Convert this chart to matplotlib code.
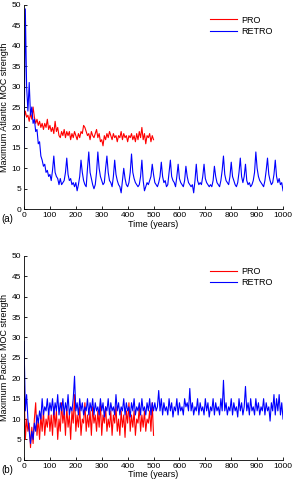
import numpy as np
import matplotlib
matplotlib.use("Agg")
import matplotlib.pyplot as plt

step = 5

pro_atl = [
    22, 24, 22.5, 23, 21.5, 23.5, 22, 25, 22.5, 21,
    22, 20.5, 21.5, 20, 21, 19.5, 21, 20, 22, 19.5,
    20.5, 19, 20, 18.5, 21.5, 19, 20, 18, 17.5, 19,
    18, 19.5, 17.5, 19, 18, 19, 17, 18.5, 17.5, 19,
    18, 17, 18.5, 17.5, 19, 18.5, 20.5, 20, 19, 18,
    18.5, 17, 19, 18, 17.5, 18.5, 19.5, 17.5, 18.5, 16.5,
    17, 15.5, 18, 17, 18.5, 17.5, 19, 18, 17, 18.5,
    17.5, 18, 16.5, 18, 17.5, 19, 17, 18.5, 17.5, 18,
    16.5, 18, 17.5, 18.5, 17, 18, 16.5, 18.5, 17, 19,
    17.5, 20, 17, 18.5, 16, 18, 17.5, 18.5, 16.5, 18,
    17,
]

retro_atl = [
    15, 49, 30, 24, 31, 23, 25, 21, 22, 19,
    19.5, 16, 16.5, 13, 12, 10.5, 11, 9, 9.5, 8,
    8.5, 7, 9.5, 13, 9, 8, 7.5, 6, 7.5, 6,
    6.5, 7, 9, 12.5, 8.5, 7, 7.5, 6, 6.5, 5.5,
    6.5, 4.5, 6, 8, 12, 9, 7, 6, 5.5, 10,
    14, 9, 7.5, 6, 5, 6, 9, 14, 10, 8,
    7, 6, 6.5, 10, 13, 9, 7, 6.5, 5.5, 8,
    12, 8.5, 7, 6, 5.5, 4, 7, 10, 7.5, 6,
    5.5, 6.5, 9, 13.5, 9, 7.5, 6.5, 6, 5.5, 6,
    8, 12, 7, 4.5, 5.5, 6.5, 6, 7, 8, 11,
    8.5, 6.5, 6, 5.5, 6.5, 8, 11.5, 8, 6.5, 7,
    5.5, 6, 9, 12, 8, 7, 6.5, 5.5, 8, 11,
    7.5, 6.5, 6, 5.5, 7, 10.5, 8, 6.5, 6, 5.5,
    6, 4, 7, 11, 7, 6, 6.5, 6, 8, 11,
    7.5, 6.5, 6, 5.5, 6, 5.5, 7, 10.5, 8, 6.5,
    6, 5.5, 7, 9.5, 13, 8.5, 7, 6.5, 6, 8,
    11.5, 8, 7, 6, 5.5, 6.5, 9, 12.5, 8, 6.5,
    8, 11, 7, 6, 6.5, 5.5, 6, 7, 9, 14,
    10, 8, 7, 6.5, 6, 5.5, 7, 9.5, 12.5, 8.5,
    7, 6, 6.5, 8.5, 12, 8, 6.5, 7.5, 6, 6.5,
    4.5,
]

pro_pac = [
    18, 5, 10, 7, 9, 3, 8, 4, 10, 14,
    6, 10, 5, 11, 7, 12, 6, 10, 8, 12,
    7, 11, 6, 13, 8, 12, 5, 10, 7, 14,
    9, 12, 6, 13, 8, 11, 5, 12, 9, 16,
    7, 11, 8, 13, 6, 10, 9, 14, 7, 11,
    8, 12, 6, 13, 9, 11, 7, 12, 8, 14,
    6, 11, 9, 13, 7, 10, 8, 12, 6, 11,
    9, 13, 7, 10, 6, 12, 8, 11, 5.5, 12,
    9, 14, 7, 11, 8, 12, 6, 10, 9, 13,
    7, 11, 8, 12, 7, 10, 9, 12, 7, 14,
    6,
]

retro_pac = [
    29, 12, 16, 10, 7, 4, 7, 5, 9, 7,
    11, 9, 12, 10, 15, 11, 13, 12, 15, 11,
    14, 12, 15, 11, 14, 12, 16, 11, 14, 12,
    15, 11, 14, 12, 16, 11, 13, 12, 15, 20.5,
    12, 14, 11, 15, 12, 14, 11, 13, 12, 15,
    11, 14, 12, 15, 11, 14, 12, 13, 11, 15,
    12, 14, 10.5, 13, 12, 15, 11, 14, 12, 13,
    11, 16, 12, 14, 11, 13, 12, 15, 11, 14,
    12, 13, 10.5, 14, 12, 15, 11, 13, 12, 14,
    11, 15, 12, 13, 11, 14, 12, 15, 11, 14,
    12, 14, 12, 13, 17, 12, 15, 11, 14, 12,
    13, 11, 15, 12, 14, 10.5, 13, 12, 15, 11,
    14, 12, 13, 11, 15, 13, 14, 12, 17.5, 12,
    14, 11, 13, 12, 15, 11, 14, 12, 13, 11,
    15, 12, 14, 10.5, 13, 12, 15, 11, 14, 12,
    13, 11, 15, 12, 19.5, 12, 14, 11, 13, 12,
    15, 11, 14, 12, 13, 10.5, 15, 12, 14, 11,
    13, 18, 12, 14, 11, 15, 12, 13, 11, 15,
    12, 14, 11, 13, 12, 15, 11, 14, 12, 13,
    9.5, 14, 12, 16, 11, 15, 12, 16, 11, 14,
    10,
]

panels = [
    ("Maximum Atlantic MOC strength", pro_atl, retro_atl, "(a)"),
    ("Maximum Pacific MOC strength", pro_pac, retro_pac, "(b)"),
]

plt.rcParams["font.family"] = ["Liberation Sans", "DejaVu Sans"]
plt.rcParams["font.size"] = 6

fig = plt.figure(figsize=(2.93, 4.82), dpi=100)
boxes = [[0.082, 0.566, 0.884, 0.424], [0.082, 0.046, 0.884, 0.423]]

for box, (ylab, pro, retro, tag) in zip(boxes, panels):
    ax = fig.add_axes(box)
    t_pro = np.arange(len(pro)) * step
    t_retro = np.arange(len(retro)) * step
    ax.plot(t_pro, pro, color="#ff0000", lw=0.8, label="PRO")
    ax.plot(t_retro, retro, color="#0000ff", lw=0.8, label="RETRO")
    ax.set_xlim(0, 1000)
    ax.set_ylim(0, 50)
    ax.set_xticks(range(0, 1001, 100))
    ax.set_yticks(range(0, 51, 5))
    ax.tick_params(direction="in", length=2.5, width=0.6, pad=2, labelsize=6)
    for s in ["top", "right"]:
        ax.spines[s].set_visible(False)
    for s in ["left", "bottom"]:
        ax.spines[s].set_linewidth(0.6)
    ax.set_xlabel("Time (years)", fontsize=6.5, labelpad=0.5)
    ax.set_ylabel(ylab, fontsize=6.5, labelpad=2)
    ax.legend(loc="upper right", frameon=False, fontsize=6.5,
              handlelength=3, handletextpad=0.4, labelspacing=0.3,
              borderaxespad=0.8)
    ax.text(-0.088, -0.05, tag, transform=ax.transAxes, fontsize=7,
            va="center", ha="left")

fig.savefig("out.png", dpi=100)
